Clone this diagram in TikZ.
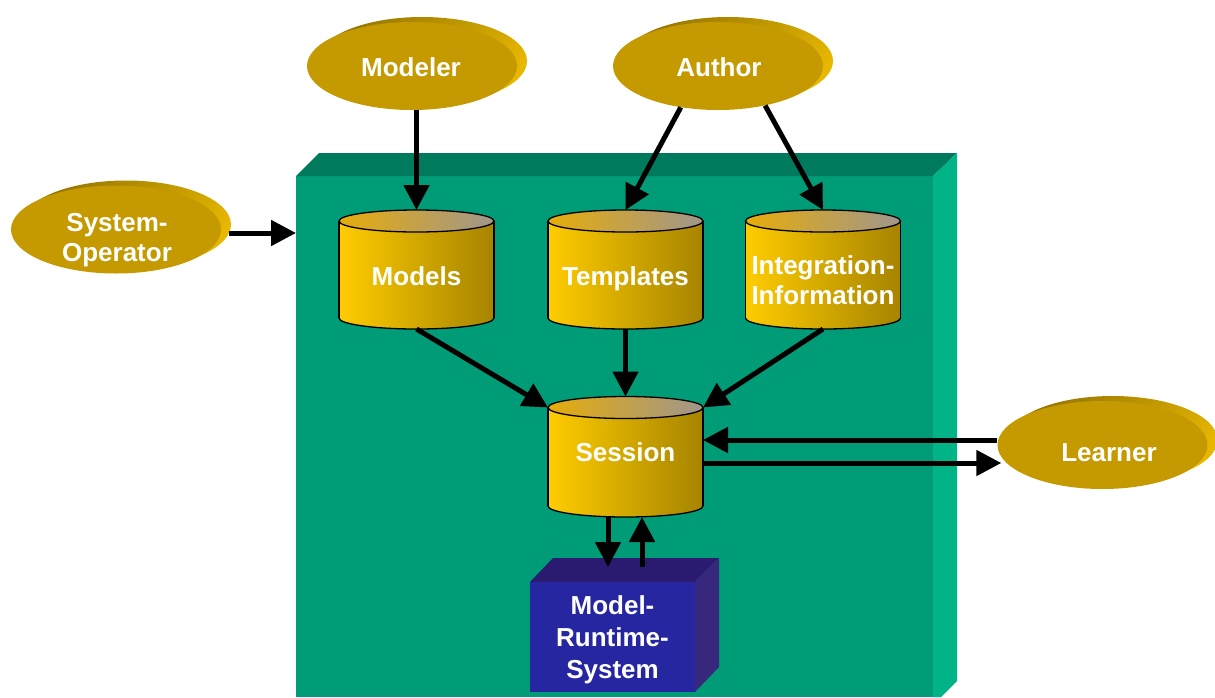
\documentclass[tikz,border=0pt]{standalone}
\usepackage{fontspec}
\setmainfont{Liberation Sans}
\usetikzlibrary{arrows.meta,calc,shapes.geometric}
\definecolor{gfront}{RGB}{0,156,120}
\definecolor{gtop}{RGB}{0,122,92}
\definecolor{gright}{RGB}{0,180,136}
\definecolor{gold}{RGB}{196,154,0}
\definecolor{goldDark}{RGB}{150,118,0}
\definecolor{goldBright}{RGB}{232,184,0}
\definecolor{cylL}{RGB}{255,204,0}
\definecolor{cylR}{RGB}{166,132,0}
\definecolor{topL}{RGB}{230,172,10}
\definecolor{topM}{RGB}{200,165,90}
\definecolor{topR}{RGB}{160,150,140}
\definecolor{mrsF}{RGB}{38,38,160}
\definecolor{mrsT}{RGB}{42,26,112}
\definecolor{mrsR}{RGB}{55,40,126}
\newcommand\mycyl[4]{%
  \shade[left color=cylL,right color=cylR] (#2-77.5,#3) rectangle (#2+77.5,#4);
  \shade[left color=cylL,right color=cylR] (#2,#4) ellipse[x radius=77.5pt,y radius=11pt];
  \begin{scope}
    \clip (#2-80,#4) rectangle (#2+80,#4+14);
    \draw[cylline] (#2,#4) ellipse[x radius=77.5pt,y radius=11pt];
  \end{scope}
  \draw[cylline] (#2-77.5,#3) -- (#2-77.5,#4) (#2+77.5,#3) -- (#2+77.5,#4);
  \shadedraw[left color=topL,middle color=topM,right color=topR,draw=black,cylline] (#2,#3) ellipse[x radius=77.5pt,y radius=11pt];
  \coordinate (#1-top) at (#2,#3-11);
  \coordinate (#1-bot) at (#2,#4+11);
  \coordinate (#1-tl) at (#2-77.5,#3);
  \coordinate (#1-tr) at (#2+77.5,#3);
}
\newcommand\myactor[3]{%
  \shade[top color=goldDark,bottom color=goldBright,shading angle=45] (#2+10,#3-5) ellipse[x radius=105pt,y radius=44pt];
  \node[actorshape] (#1) at (#2,#3) {};
}
\begin{document}
\begin{tikzpicture}[x=1pt,y=-1pt,
  lbl/.style={text=white,font=\bfseries\fontsize{26}{30}\selectfont,align=center,inner sep=0pt},
  arr/.style={line width=5pt,-{Triangle[width=25pt,length=25pt]}},
  cylline/.style={line width=1.3pt},
  actorshape/.style={ellipse,fill=gold,minimum width=210pt,minimum height=88pt,inner sep=0pt},
]
\useasboundingbox (0,0) rectangle (1215,697);

% platform box
\node[fill=gfront,minimum width=637pt,minimum height=521pt,inner sep=0pt,anchor=north west] (platform) at (296,176) {};
\fill[gtop] (296,176) -- (319,153) -- (957,153) -- (933,176) -- cycle;
\fill[gright] (933,176) -- (957,153) -- (957,681) -- (941,697) -- (933,697) -- cycle;

% actors
\myactor{modeler}{412}{66}
\node[lbl] (modeler-t) at (411,67) {Modeler};
\myactor{author}{718}{66}
\node[lbl] (author-t) at (719,67) {Author};
\myactor{sysop}{116}{229.5}
\node[lbl] (sysop-t) at (117,240) {System-\\Operator};
\myactor{learner}{1102.5}{445}
\node[lbl] (learner-t) at (1109,453) {Learner};

% cylinders
\mycyl{models}{416.5}{221}{318}
\node[lbl] (models) at (416.5,276) {Models};
\mycyl{templates}{625.5}{221}{318}
\node[lbl] (templates) at (625.5,279) {Templates};
\mycyl{integ}{823}{221}{318}
\node[lbl] (integ) at (823,280) {Integration-\\Information};
\mycyl{session}{625.5}{407.5}{506}
\node[lbl] (session) at (625.5,452) {Session};
\coordinate (session-r1) at (703,440);
\coordinate (session-r2) at (703,463);
\coordinate (session-b1) at (608,517);
\coordinate (session-b2) at (642,517);

% model runtime system
\fill[mrsT] (530,582) -- (553,558) -- (719,558) -- (695,582) -- cycle;
\fill[mrsR] (695,582) -- (719,558) -- (719,667) -- (695,692) -- cycle;
\node[fill=mrsF,minimum width=165pt,minimum height=110pt,inner sep=0pt] (mrs) at (612.5,637) {};
\node[lbl] (mrs-t) at (612.5,640) {Model-\\[2pt]Runtime-\\[2pt]System};
\coordinate (mrs-t1) at (608,567);
\coordinate (mrs-t2) at (642,567);

% connectors
\draw[arr] (models-top |- modeler.south) -- (models-top);
\draw[arr] (author.228) -- (templates-top);
\draw[arr] (author.320) -- (integ-top);
\draw[arr] ([xshift=8pt,yshift=-3.5pt]sysop.east) -- ([yshift=-3.5pt]sysop.east -| platform.west);
\draw[arr] (models-bot) -- (session-tl);
\draw[arr] (templates-bot) -- (session-top);
\draw[arr] (integ-bot) -- (session-tr);
\draw[arr] (session-r1 -| learner.west) -- (session-r1);
\draw[arr] (session-r2) -- ([xshift=4pt]session-r2 -| learner.west);
\draw[arr] (session-b1) -- (mrs-t1);
\draw[arr] (mrs-t2) -- (session-b2);
\end{tikzpicture}
\end{document}
